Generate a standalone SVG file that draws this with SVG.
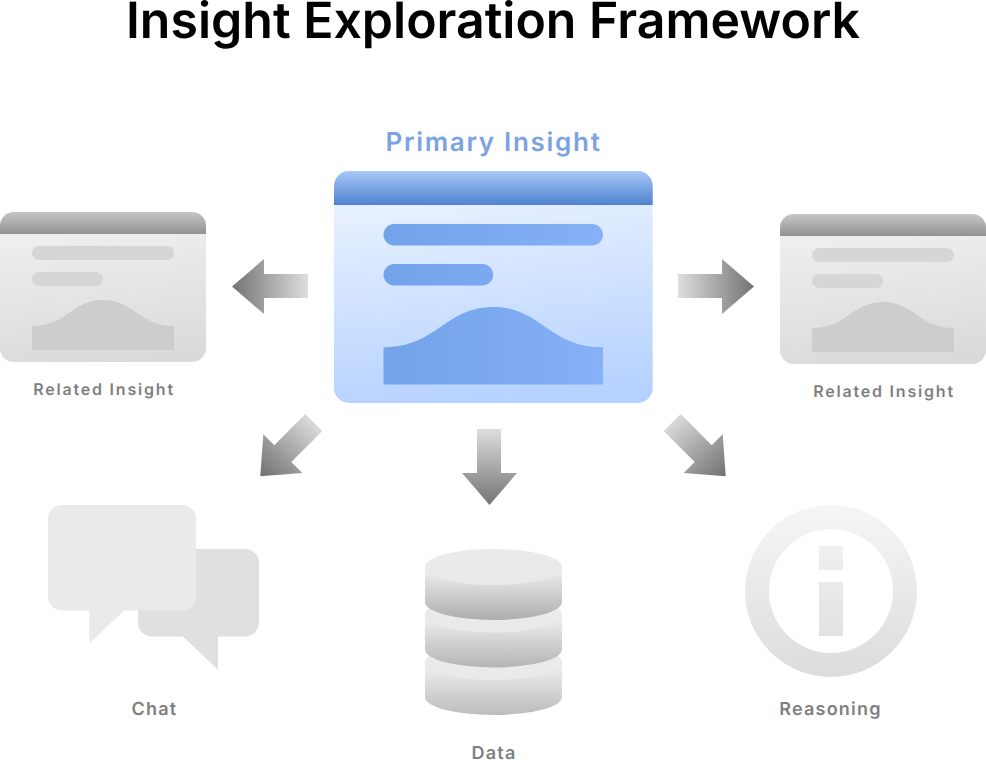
<svg xmlns="http://www.w3.org/2000/svg" width="986" height="765" viewBox="0 0 986 765">
<style>
text{font-family:Inter,"Liberation Sans",sans-serif;text-anchor:middle;text-rendering:geometricPrecision}
.title{font-size:50px;font-weight:600;fill:#000}
.main{font-size:26px;font-weight:600;fill:#7BA3E3;letter-spacing:1.7px}
.lab{font-size:16px;font-weight:600;fill:#7F7F7F;letter-spacing:1.8px}
.lab2{font-size:18px;font-weight:600;fill:#7F7F7F;letter-spacing:1.2px}
.gb{fill:url(#gBar)}
.cb{fill:#CDCDCD}
.b{fill:#D6D6D6}
.cap{fill:#EAEAEA}
</style>
<defs>
<linearGradient id="pBody" x1="0.42" y1="0" x2="0.58" y2="1"><stop offset="0" stop-color="#EDF4FF"/><stop offset="1" stop-color="#B5D1FF"/></linearGradient>
<linearGradient id="pHead" x1="0" y1="0" x2="0" y2="1"><stop offset="0" stop-color="#A8C8F8"/><stop offset="1" stop-color="#4F82CF"/></linearGradient>
<linearGradient id="gBar" gradientUnits="userSpaceOnUse" x1="383" y1="0" x2="603" y2="0"><stop offset="0" stop-color="#72A2E9"/><stop offset="1" stop-color="#86B1F6"/></linearGradient>
<linearGradient id="sBody" x1="0.42" y1="0" x2="0.58" y2="1"><stop offset="0" stop-color="#F1F1F1"/><stop offset="1" stop-color="#DADADA"/></linearGradient>
<linearGradient id="sHead" x1="0" y1="0" x2="0" y2="1"><stop offset="0" stop-color="#C6C6C6"/><stop offset="1" stop-color="#929292"/></linearGradient>
<linearGradient id="aL" gradientUnits="userSpaceOnUse" x1="232" y1="0" x2="308" y2="0"><stop offset="0" stop-color="#737373"/><stop offset="1" stop-color="#DEDEDE"/></linearGradient>
<linearGradient id="aR" gradientUnits="userSpaceOnUse" x1="754" y1="0" x2="678" y2="0"><stop offset="0" stop-color="#737373"/><stop offset="1" stop-color="#DEDEDE"/></linearGradient>
<linearGradient id="aD" gradientUnits="userSpaceOnUse" x1="0" y1="505" x2="0" y2="429"><stop offset="0" stop-color="#737373"/><stop offset="1" stop-color="#DEDEDE"/></linearGradient>
<linearGradient id="aDL" gradientUnits="userSpaceOnUse" x1="262" y1="475" x2="315" y2="420"><stop offset="0" stop-color="#737373"/><stop offset="1" stop-color="#DEDEDE"/></linearGradient>
<linearGradient id="aDR" gradientUnits="userSpaceOnUse" x1="724" y1="475" x2="670" y2="420"><stop offset="0" stop-color="#737373"/><stop offset="1" stop-color="#DEDEDE"/></linearGradient>
<linearGradient id="gDb1" x1="0" y1="0" x2="0" y2="1"><stop offset="0" stop-color="#F2F2F2"/><stop offset="1" stop-color="#ADADAD"/></linearGradient>
<linearGradient id="gDb2" x1="0" y1="0" x2="0" y2="1"><stop offset="0" stop-color="#F2F2F2"/><stop offset="1" stop-color="#B4B4B4"/></linearGradient>
<linearGradient id="gDb3" x1="0" y1="0" x2="0" y2="1"><stop offset="0" stop-color="#F2F2F2"/><stop offset="1" stop-color="#BCBCBC"/></linearGradient>
<linearGradient id="gInfo" gradientUnits="userSpaceOnUse" x1="0" y1="505" x2="0" y2="677"><stop offset="0" stop-color="#F6F6F6"/><stop offset="1" stop-color="#DCDCDC"/></linearGradient>
<g id="small">
<path d="M0 14a14 14 0 0 1 14-14H192a14 14 0 0 1 14 14V136a14 14 0 0 1-14 14H14a14 14 0 0 1-14-14Z" fill="url(#sBody)"/>
<path d="M0 22V14a14 14 0 0 1 14-14H192a14 14 0 0 1 14 14V22Z" fill="url(#sHead)"/>
<rect class="b" x="32" y="34" width="142" height="14" rx="7"/>
<rect class="b" x="32" y="60" width="71" height="14" rx="7"/>
<path class="cb" d="M32 114C67 114 72 88 103 88S139 114 174 114V138H32Z"/>
</g>
</defs>
<g id="title"><text class="title" x="493" y="38">Insight Exploration Framework</text></g>
<g id="connectors">
<path fill="url(#aL)" d="M232 286.500L264 259V274H308V298H264V314Z"/>
<path fill="url(#aR)" d="M754 286.500L722 259V274H678V298H722V314Z"/>
<path fill="url(#aD)" d="M489.500 505L462 473H477V429H501V473H517Z"/>
<path fill="url(#aDL)" d="M260.300 476.300L263.300 434.300L274.300 445.300L305.300 414L322.300 431L291.300 462L302.300 473Z"/>
<path fill="url(#aDR)" d="M725.700 476.300L722.700 434.300L711.700 445.300L680.700 414L663.700 431L694.700 462L683.700 473Z"/>
</g>
<g id="primary-insight">
<text class="main" x="493.500" y="151">Primary Insight</text>
<rect x="334" y="171" width="318.700" height="232" rx="15" fill="url(#pBody)"/>
<path d="M334 205V186a15 15 0 0 1 15-15H637.700a15 15 0 0 1 15 15V205Z" fill="url(#pHead)"/>
<rect class="gb" x="383.500" y="224" width="219.500" height="21.500" rx="10.750"/>
<rect class="gb" x="383.500" y="264" width="109.700" height="21.500" rx="10.750"/>
<path class="gb" d="M383.500 347.300C437 347.300 445 307 493.200 307S549 347.300 603 347.300V384.500H383.500Z"/>
</g>
<g id="related-left">
<use href="#small" x="0" y="212"/>
<text class="lab" x="104" y="395">Related Insight</text>
</g>
<g id="related-right">
<use href="#small" x="780" y="214"/>
<text class="lab" x="884" y="397">Related Insight</text>
</g>
<g id="chat">
<path fill="#E0E0E0" d="M152 549H245a14 14 0 0 1 14 14V622.500a14 14 0 0 1-14 14H218V670L183 636.500H152a14 14 0 0 1-14-14V563a14 14 0 0 1 14-14Z"/>
<path fill="#EAEAEA" d="M62 505H182a14 14 0 0 1 14 14V596.500a14 14 0 0 1-14 14H124L89.300 643.500V610.500H62a14 14 0 0 1-14-14V519a14 14 0 0 1 14-14Z"/>
<text class="lab2" x="154.500" y="715">Chat</text>
</g>
<g id="data">
<path fill="url(#gDb3)" d="M425 662V697A68.500 18 0 0 0 562 697V662Z"/>
<ellipse class="cap" cx="493.500" cy="662" rx="68.500" ry="18"/>
<path fill="url(#gDb2)" d="M425 614.500V649.500A68.500 18 0 0 0 562 649.500V614.500Z"/>
<ellipse class="cap" cx="493.500" cy="614.500" rx="68.500" ry="18"/>
<path fill="url(#gDb1)" d="M425 567V602A68.500 18 0 0 0 562 602V567Z"/>
<ellipse class="cap" cx="493.500" cy="567" rx="68.500" ry="18"/>
<text class="lab2" x="494" y="759">Data</text>
</g>
<g id="reasoning">
<path fill="url(#gInfo)" fill-rule="evenodd" d="M831 505a86 86 0 1 0 0 172a86 86 0 1 0 0-172ZM831 529a62 62 0 1 1 0 124a62 62 0 1 1 0-124Z"/>
<rect x="819" y="546" width="24" height="24" fill="url(#gInfo)"/>
<rect x="819" y="582" width="24" height="54" fill="url(#gInfo)"/>
<text class="lab2" x="830.500" y="715">Reasoning</text>
</g>
</svg>
